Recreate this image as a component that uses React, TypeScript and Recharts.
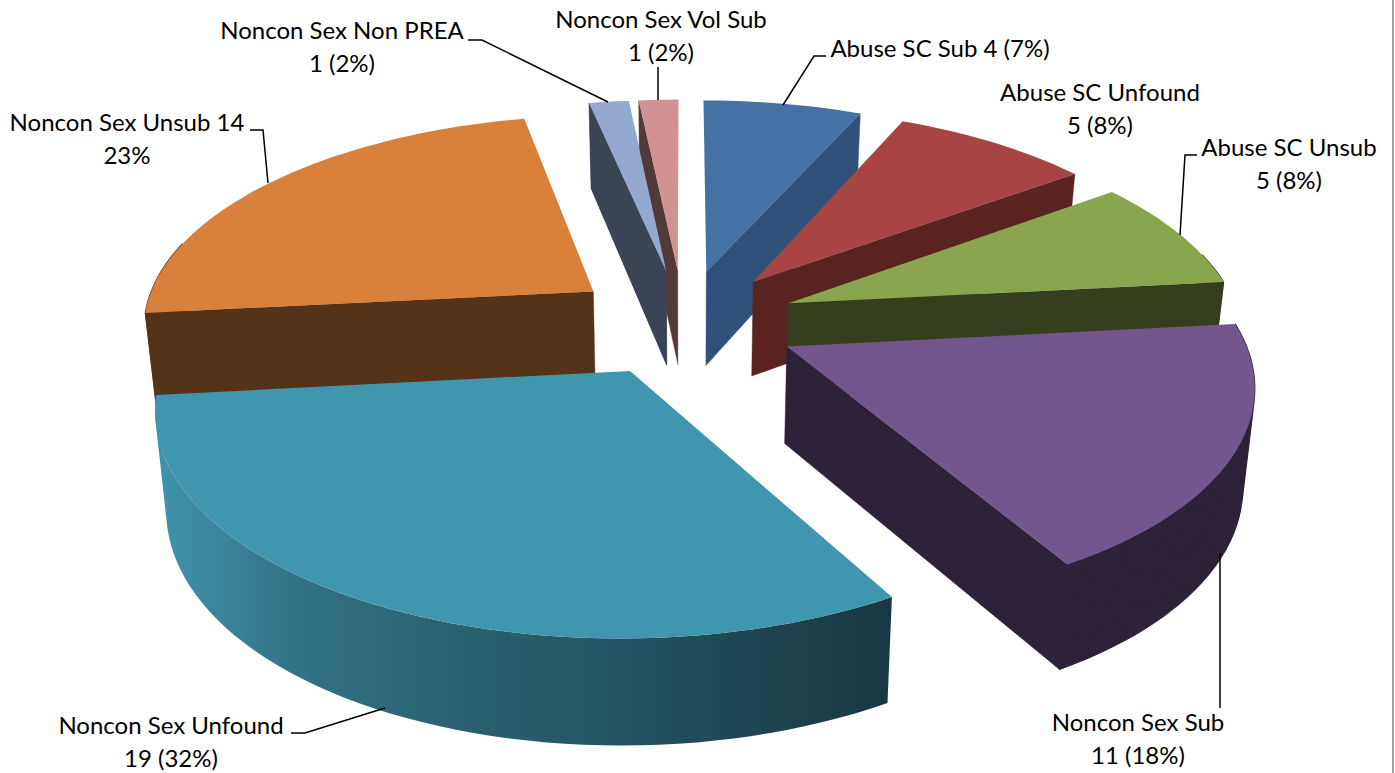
import React from 'react';
import { PieChart, Pie } from 'recharts';

// Listed in paint order (back to front); the pie starts at the Noncon Sex Unsub 14 slice.
const categories = ['Noncon Sex Unsub 14', 'Noncon Sex Non PREA', 'Noncon Sex Vol Sub', 'Abuse SC Sub 4', 'Abuse SC Unfound', 'Abuse SC Unsub', 'Noncon Sex Sub', 'Noncon Sex Unfound'];
const values = [14, 1, 1, 4, 5, 5, 11, 19];
const labelLines = [
  ['Noncon Sex Unsub 14', '23%'],
  ['Noncon Sex Non PREA', '1 (2%)'],
  ['Noncon Sex Vol Sub', '1 (2%)'],
  ['Abuse SC Sub 4 (7%)'],
  ['Abuse SC Unfound', '5 (8%)'],
  ['Abuse SC Unsub', '5 (8%)'],
  ['Noncon Sex Sub', '11 (18%)'],
  ['Noncon Sex Unfound', '19 (32%)'],
];
const topColors = ['#d9803b', '#94a9d0', '#d09392', '#4571a5', '#a84543', '#89a54e', '#71578e', '#4096ae'];
const wallColors = ['#553319', '#3b4455', '#533a3a', '#30527a', '#592420', '#353f1d', '#2d2238', 'url(#tealWall)'];

// label layout: text centre x, first baseline y, leader polyline
const labelBox: { x: number; y: number; line: number[][] }[] = [
  { x: 127, y: 131, line: [[250, 130], [263, 130], [268, 183]] },
  { x: 342, y: 39, line: [[468, 40], [482, 40], [608, 102]] },
  { x: 661, y: 28, line: [[658, 67], [658, 100]] },
  { x: 940, y: 57, line: [[826, 56], [814, 56], [783, 105]] },
  { x: 1100, y: 101, line: [] },
  { x: 1289, y: 156, line: [[1197, 155], [1185, 155], [1180, 235]] },
  { x: 1138, y: 731, line: [[1220, 708], [1220, 553]] },
  { x: 171, y: 734, line: [[291, 733], [305, 733], [385, 708]] },
];

const data = categories.map((name, i) => ({ name, value: values[i], idx: i }));

const OUTER = 452;
const SQUASH = 211 / 452;
const PERSP = 0.15;
const EXPLODE = 0.252;
const DEPTH_MID = 96;
const DEPTH_SLOPE = 9;
const CONVERGE = 0.979;
const FRONT_OF_VOL_SUB = 1; // the Non PREA slice is repainted over its neighbour's wall

function Slice(props: any) {
  const { cx, cy, outerRadius: R, startAngle, endAngle, payload } = props;
  const i = payload?.idx ?? props.idx ?? props.index ?? 0;
  const rad = (d: number) => (d * Math.PI) / 180;
  const mid = rad((startAngle + endAngle) / 2);
  const ox = EXPLODE * Math.cos(mid);
  const oy = EXPLODE * Math.sin(mid);
  const proj = (X: number, Y: number, down: boolean) => {
    const w = 1 + PERSP * Y;
    const sx = cx + (R * X) / w;
    const sy = cy - (R * SQUASH * Y) / w;
    return down ? [cx + (sx - cx) * CONVERGE, sy + DEPTH_MID - DEPTH_SLOPE * Y] : [sx, sy];
  };
  const rim: number[][] = [];
  const facing: boolean[] = [];
  const steps = Math.max(2, Math.ceil(Math.abs(endAngle - startAngle) / 2));
  for (let s = 0; s <= steps; s++) {
    const a = rad(startAngle + ((endAngle - startAngle) * s) / steps);
    rim.push([ox + Math.cos(a), oy + Math.sin(a)]);
    facing.push(Math.sin(a) < 0.22);
  }
  const d = (pts: number[][]) => 'M' + pts.map((p) => `${p[0].toFixed(1)},${p[1].toFixed(1)}`).join('L') + 'Z';
  const oriented = (pts: number[][]) => {
    let area = 0;
    pts.forEach((p, k) => {
      const q = pts[(k + 1) % pts.length];
      area += p[0] * q[1] - q[0] * p[1];
    });
    return area < 0 ? [...pts].reverse() : pts;
  };
  const apexT = proj(ox, oy, false);
  const apexB = proj(ox, oy, true);
  const rimT = rim.map((p) => proj(p[0], p[1], false));
  const rimB = rim.map((p) => proj(p[0], p[1], true));
  const wall = wallColors[i];
  const radialFill = i === 7 ? '#1a3a45' : wall;
  const startVisible = Math.sin(rad(startAngle + 90)) < -0.001;
  const endVisible = Math.sin(rad(endAngle - 90)) < -0.001;
  const outerWall = rimT
    .slice(1)
    .map((p, s) => (facing[s] || facing[s + 1] ? d(oriented([rimT[s], p, rimB[s + 1], rimB[s]])) : ''))
    .join('');
  return (
    <g>
      {startVisible && <path d={d([apexT, rimT[0], rimB[0], apexB])} fill={radialFill} stroke={radialFill} strokeWidth={0.4} />}
      {endVisible && <path d={d([apexT, rimT[rimT.length - 1], rimB[rimB.length - 1], apexB])} fill={radialFill} stroke={radialFill} strokeWidth={0.4} />}
      {outerWall && <path d={outerWall} fill={wall} fillRule="nonzero" stroke={i === 7 ? 'none' : wall} strokeWidth={1.2} strokeLinejoin="round" />}
      <path d={d([apexT, ...rimT])} fill={topColors[i]} />
    </g>
  );
}

function FrontSlice(props: any) {
  const i = props.payload?.idx ?? props.idx ?? props.index ?? 0;
  return i === FRONT_OF_VOL_SUB ? <Slice {...props} /> : <g />;
}

function SliceLabel(props: any) {
  const i = props.payload?.idx ?? props.index ?? 0;
  const box = labelBox[i];
  return (
    <g>
      {box.line.length > 0 && (
        <polyline points={box.line.map((p) => p.join(',')).join(' ')} fill="none" stroke="#000" strokeWidth={1.5} />
      )}
      <text x={box.x} y={box.y} textAnchor="middle" fontFamily="Lato, 'Open Sans', sans-serif" fontSize={24} fill="#000">
        {labelLines[i].map((t, k) => (
          <tspan key={k} x={box.x} dy={k === 0 ? 0 : 33}>{t}</tspan>
        ))}
      </text>
    </g>
  );
}

const pieGeometry = {
  dataKey: 'value',
  nameKey: 'name',
  cx: 683.5,
  cy: 322,
  innerRadius: 0,
  outerRadius: OUTER,
  startAngle: -174,
  endAngle: -534,
  stroke: 'none',
};

export default function App() {
  return (
    <div style={{ position: 'absolute', left: 0, top: 0, width: 1395, height: 773, background: '#fff', overflow: 'hidden' }}>
      <PieChart width={1395} height={773} margin={{ top: 0, right: 0, bottom: 0, left: 0 }}>
        <defs>
          <linearGradient id="tealWall" gradientUnits="userSpaceOnUse" x1={165} y1={0} x2={890} y2={0}>
            <stop offset="0" stopColor="#3f92aa" />
            <stop offset="0.2" stopColor="#307082" />
            <stop offset="0.6" stopColor="#245563" />
            <stop offset="1" stopColor="#193843" />
          </linearGradient>
        </defs>
        <Pie data={data} {...pieGeometry} shape={Slice} label={SliceLabel} labelLine={false} isAnimationActive={false} />
        <Pie data={data} {...pieGeometry} shape={FrontSlice} label={false} labelLine={false} isAnimationActive={false} />
      </PieChart>
      <div style={{ position: 'absolute', left: 1392, top: 0, width: 2, height: 773, background: '#a0a0a0' }} />
    </div>
  );
}
